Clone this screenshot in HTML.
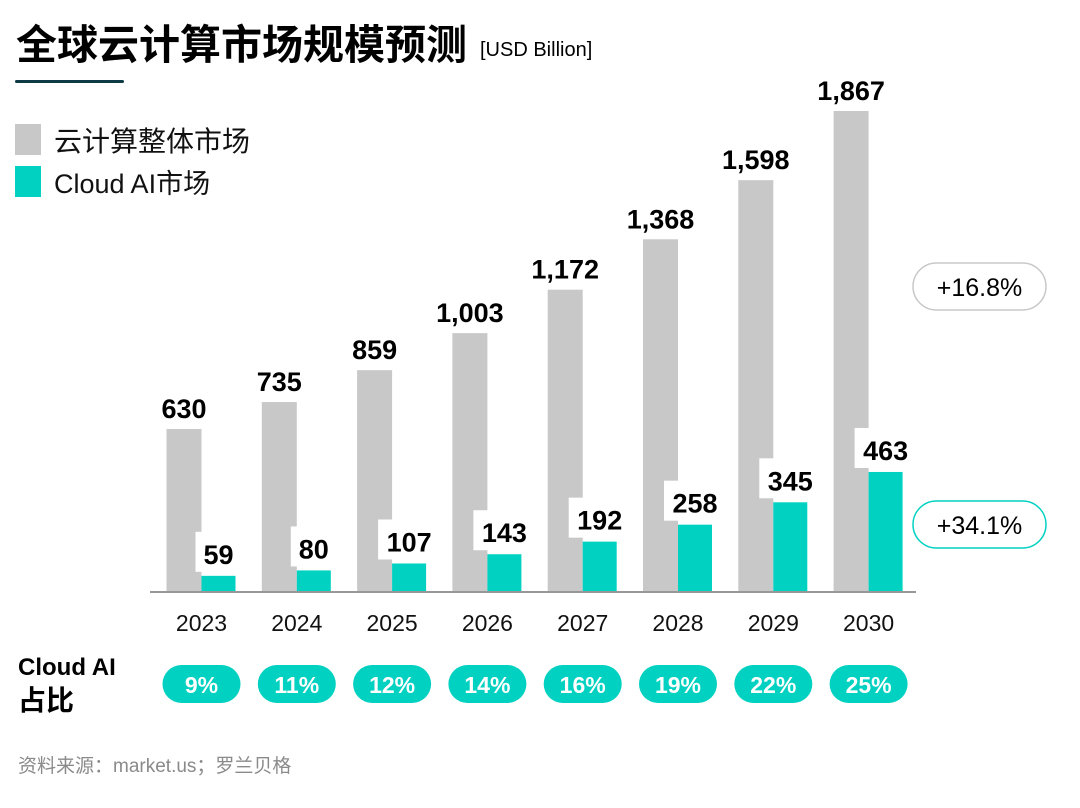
<!DOCTYPE html>
<html><head><meta charset="utf-8">
<style>
body{margin:0;width:1080px;height:803px;background:#fff;overflow:hidden;font-family:"Liberation Sans","Noto Sans CJK SC",sans-serif;}
svg text{font-family:"Liberation Sans","Noto Sans CJK SC",sans-serif;}
</style></head><body>
<svg id="c" width="1080" height="803" xmlns="http://www.w3.org/2000/svg">
<text x="16" y="59" font-size="41" font-weight="bold" fill="#000">全球云计算市场规模预测</text>
<text x="480" y="56" font-size="20" fill="#000">[USD Billion]</text>
<rect x="15" y="80" width="109" height="3" rx="1.5" fill="#0d3b45"/>
<g>
<rect x="15" y="124" width="26" height="31" fill="#c8c8c8"/>
<text x="54" y="151" font-size="28" fill="#111">云计算整体市场</text>
<rect x="15" y="166" width="26" height="31" fill="#00d1c1"/>
<text x="54" y="193" font-size="27" fill="#111">Cloud AI市场</text>
</g>
<line x1="150" y1="592" x2="916" y2="592" stroke="#777" stroke-width="1.5"/>
<g id="bars"></g>
<text x="18" y="675" font-size="24" font-weight="bold">Cloud AI</text>
<text x="18" y="710" font-size="28" font-weight="bold">占比</text>
<g>
<rect x="913" y="263" width="133" height="47" rx="23.5" fill="#fff" stroke="#c8c8c8" stroke-width="1.5"/>
<text x="979.5" y="296" font-size="25" text-anchor="middle">+16.8%</text></g>
<g>
<rect x="913" y="501" width="133" height="47" rx="23.5" fill="#fff" stroke="#00d1c1" stroke-width="1.5"/>
<text x="979.5" y="534" font-size="25" text-anchor="middle">+34.1%</text></g>
<text x="18" y="772" font-size="19" fill="#8a8a8a">资料来源：market.us；罗兰贝格</text>
</svg>
<script>
const years=["2023","2024","2025","2026","2027","2028","2029","2030"];
const totalVals=[630,735,859,1003,1172,1368,1598,1867];
const aiVals=[59,80,107,143,192,258,345,463];
const totalLabels=["630","735","859","1,003","1,172","1,368","1,598","1,867"];
const shares=["9%","11%","12%","14%","16%","19%","22%","25%"];
const NS="http://www.w3.org/2000/svg";
const g=document.getElementById('bars');
const base=591, k=480/1867;
function xc(i){return 201.5+i*95.3;}
function y(v){return base-v*k;}
function mk(t,a,p){const e=document.createElementNS(NS,t);for(const n in a)e.setAttribute(n,a[n]);(p||g).appendChild(e);return e;}
years.forEach((yr,i)=>{
 const c=xc(i);
 const gb=mk('rect',{x:c-35,y:y(totalVals[i]),width:35,height:base-y(totalVals[i]),fill:'#c8c8c8'});
 
 
 const ab=mk('rect',{x:c,y:y(aiVals[i]),width:34,height:base-y(aiVals[i]),fill:'#00d1c1'});
 
 
 const tl=mk('text',{x:c-17.5,y:y(totalVals[i])-11,'font-size':27,'font-weight':'bold','text-anchor':'middle'});
 tl.textContent=totalLabels[i];
 
 
 const bw=String(aiVals[i]).length*16+14;
 const bx=mk('rect',{x:c+17-bw/2,y:y(aiVals[i])-44,width:bw,height:40,fill:'#fff'});
 
 
 const al=mk('text',{x:c+17,y:y(aiVals[i])-12,'font-size':27,'font-weight':'bold','text-anchor':'middle'});
 al.textContent=aiVals[i];
 
 
 const yl=mk('text',{x:c,y:631,'font-size':23,'text-anchor':'middle',fill:'#111'});
 yl.textContent=yr;
 
 
 const pl=mk('rect',{x:c-39,y:665,width:78,height:38,rx:19,fill:'#00d1c1'});
 
 
 const pt=mk('text',{x:c,y:693,'font-size':23,'font-weight':'bold','text-anchor':'middle',fill:'#fff'});
 pt.textContent=shares[i];
 
 
});
</script>
</body></html>
